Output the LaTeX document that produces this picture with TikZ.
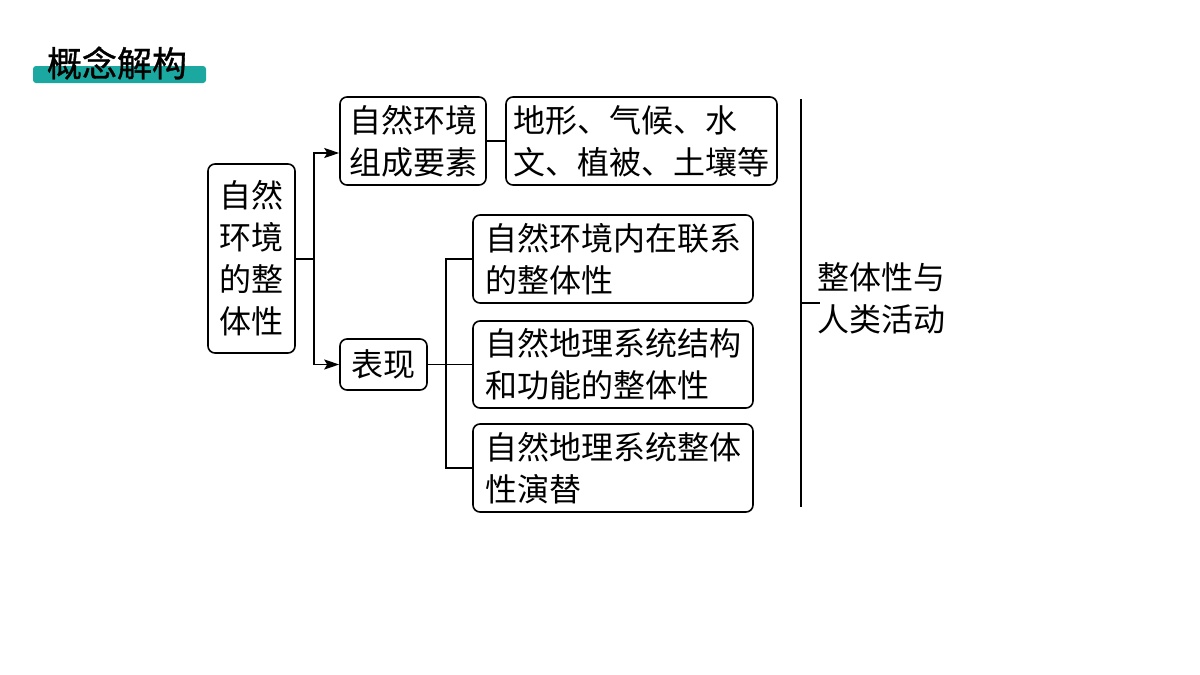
\documentclass[tikz,border=0pt]{standalone}
\usepackage{fontspec}
\newfontfamily\cjk{Noto Sans CJK SC}
\newfontfamily\cjkt[FakeBold=1]{Noto Sans CJK SC}
\usetikzlibrary{arrows.meta}
\definecolor{teal1}{HTML}{1AA8A0}
\begin{document}
\begin{tikzpicture}[x=1pt,y=-1pt,
  bx/.style={draw, line width=1.6pt, rounded corners=7pt, inner sep=0pt, align=left,
    font=\cjk\fontsize{32}{42}\selectfont},
  ln/.style={line width=1.6pt},
  arr/.style={line width=1.6pt, -{Stealth[length=15pt,width=10pt,inset=3pt]}},
  txt/.style={inner sep=0pt, align=left, font=\cjk\fontsize{32}{42}\selectfont}]
\useasboundingbox[fill=white] (0,0) rectangle (1200,675);
% title
\fill[teal1, rounded corners=3pt] (33,66) rectangle (206,83);
\node[inner sep=0pt, font=\cjkt\fontsize{35}{38}\selectfont] (title) at (117,63) {概念解构};
% boxes
\node[bx, minimum width=87pt, minimum height=189pt, align=center] (root) at (251.5,258.5) {自然\\环境\\的整\\体性};
\node[bx, minimum width=146pt, minimum height=88pt] (a) at (413,141) {自然环境\\组成要素};
\node[bx, minimum width=271pt, minimum height=88pt] (b) at (641.5,141) {地形、气候、水\\文、植被、土壤等};
\node[bx, minimum width=87pt, minimum height=51pt] (c) at (383.5,364.5) {表现};
\node[bx, minimum width=280pt, minimum height=88pt] (d1) at (613,259) {自然环境内在联系\\的整体性};
\node[bx, minimum width=280pt, minimum height=87pt] (d2) at (613,364.5) {自然地理系统结构\\和功能的整体性};
\node[bx, minimum width=280pt, minimum height=88pt] (d3) at (613,468) {自然地理系统整体\\性演替};
\node[txt, anchor=west] (r) at (817,298.5) {整体性与\\人类活动};
% connectors
\coordinate (j1) at (314,259);
\draw[ln] (root.east |- j1) -- (j1);
\draw[arr] (j1) |- ([yshift=-12pt]a.west);
\draw[arr] (j1) |- (c.west);
\draw[ln] (a.east) -- (b.west);
\coordinate (j2) at (446,364.5);
\draw[ln] (c.east) -- (j2);
\draw[ln] (j2) |- (d1.west);
\draw[ln] (j2) -- (d2.west);
\draw[ln] (j2) |- (d3.west);
\coordinate (v1) at (801,99);
\coordinate (v2) at (801,507);
\coordinate (vt) at (801,303);
\coordinate (vte) at (820,303);
\draw[ln] (v1) -- (v2);
\draw[ln] (vt) -- (vte);
\end{tikzpicture}
\end{document}
